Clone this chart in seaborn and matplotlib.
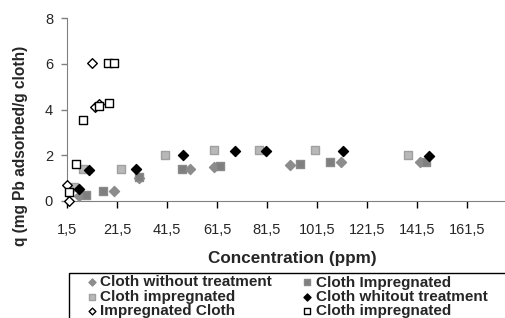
import matplotlib
matplotlib.use("Agg")
import matplotlib.pyplot as plt
from matplotlib.patches import Rectangle
import seaborn as sns

# data
x_without = [6.1, 20.2, 30.4, 50.5, 60.1, 90.5, 111.0, 142.6]
y_without = [0.22, 0.43, 1.02, 1.39, 1.50, 1.59, 1.70, 1.70]

x_impreg_dark = [9.2, 16.0, 30.2, 47.5, 62.8, 94.5, 106.5, 145.2]
y_impreg_dark = [0.26, 0.45, 1.07, 1.39, 1.55, 1.60, 1.72, 1.70]

x_impreg_light = [4.2, 7.9, 23.2, 40.8, 60.2, 78.2, 100.6, 137.8]
y_impreg_light = [0.62, 1.40, 1.40, 2.02, 2.23, 2.22, 2.23, 2.02]

x_whitout = [6.1, 10.2, 29.2, 48.0, 68.6, 81.2, 112.0, 146.1]
y_whitout = [0.53, 1.37, 1.38, 2.00, 2.20, 2.20, 2.20, 1.95]

x_impreg_cloth = [1.5, 2.4, 11.6, 12.8, 14.2]
y_impreg_cloth = [0.72, 0.0, 6.03, 4.10, 4.24]

x_cloth_open = [2.1, 5.1, 7.8, 14.4, 18.1, 17.9, 20.3]
y_cloth_open = [0.38, 1.62, 3.56, 4.17, 4.28, 6.04, 6.04]

xticks = [1.5, 21.5, 41.5, 61.5, 81.5, 101.5, 121.5, 141.5, 161.5]
xtick_labels = [str(t).replace(".", ",") for t in xticks]
yticks = [0, 2, 4, 6, 8]

sns.set_style("ticks")
plt.rcParams['font.family'] = ['Liberation Sans', 'DejaVu Sans']

fig = plt.figure(figsize=(5.06, 3.18), dpi=100)
ax = fig.add_axes([67 / 506, 117 / 318, 439 / 506, 182.7 / 318])

series = [
    (x_without, y_without, "Cloth without treatment", "D", 26, "#8c8c8c", "#8c8c8c"),
    (x_impreg_dark, y_impreg_dark, "Cloth Impregnated", "s", 30, "#7f7f7f", "#8a8a8a"),
    (x_impreg_light, y_impreg_light, "Cloth impregnated", "s", 32, "#b8b8b8", "#a0a0a0"),
    (x_whitout, y_whitout, "Cloth whitout treatment", "D", 26, "black", "black"),
    (x_impreg_cloth, y_impreg_cloth, "Impregnated Cloth", "D", 24, "white", "black"),
    (x_cloth_open, y_cloth_open, "Cloth impregnated", "s", 34, "white", "black"),
]

for xs, ys, lab, mk, s, fc, ec in series:
    sns.scatterplot(x=xs, y=ys, ax=ax, marker=mk, s=s, color=fc,
                    edgecolor=ec, linewidth=1, label=lab, clip_on=False, zorder=3)

ax.set_xlim(1.5, 177.1)
ax.set_ylim(0, 8)
ax.set_xticks(xticks)
ax.set_xticklabels(xtick_labels)
ax.set_yticks(yticks)
ax.tick_params(axis="x", length=5, width=1, color="#000000", pad=11, labelsize=10.5)
ax.tick_params(axis="y", length=4, width=1, color="#808080", pad=6, labelsize=10.5)
sns.despine(ax=ax)
ax.spines["left"].set_color("#808080")
ax.spines["bottom"].set_color("#808080")

ax.set_xlabel("Concentration (ppm)", fontsize=12.3, fontweight="bold")
ax.set_ylabel("q (mg Pb adsorbed/g cloth)", fontsize=11.2, fontweight="bold")
ax.xaxis.set_label_coords((292 - 67) / 439, (201 - 259) / 182.7)
ax.xaxis.label.set_verticalalignment("center")
ax.yaxis.set_label_coords((20 - 67) / 439, (201 - 146) / 182.7)
ax.yaxis.label.set_verticalalignment("center")

# legend frame is cut by the picture edge, so draw it by hand
fig.patches.append(Rectangle((69 / 506, -0.2), 1.0, 0.2 + (318 - 272.7) / 318,
                             transform=fig.transFigure, fill=False,
                             edgecolor="black", linewidth=1))

# Excel fills the legend row by row
handles, labels = ax.get_legend_handles_labels()
order = [0, 2, 4, 1, 3, 5]
leg = ax.legend([handles[i] for i in order], [labels[i] for i in order],
                ncol=2, loc="upper left",
                bbox_to_anchor=(87.4 / 506, 1 - 275.5 / 318), bbox_transform=fig.transFigure,
                frameon=False, prop={"weight": "bold", "size": 11}, labelspacing=0.02,
                handlelength=0.6, handletextpad=0.25, columnspacing=2.0,
                borderpad=0, borderaxespad=0, markerscale=0.7)

fig.savefig("out.png", dpi=100)
